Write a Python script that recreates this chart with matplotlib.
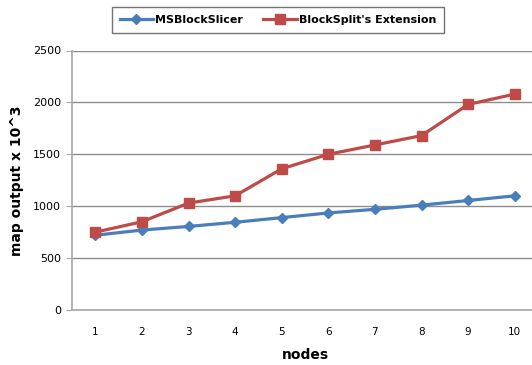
import matplotlib
matplotlib.use('Agg')
import matplotlib.pyplot as plt
from matplotlib.lines import Line2D

nodes = [1, 2, 3, 4, 5, 6, 7, 8, 9, 10]
ms_block_slicer = [720, 770, 805, 845, 890, 935, 970, 1010, 1055, 1100]
blocksplit_ext = [750, 850, 1030, 1100, 1360, 1500, 1590, 1680, 1980, 2080]
yticks = [0, 500, 1000, 1500, 2000, 2500]

blue = '#4a7ebb'
red = '#be4b48'
grid_col = '#8c8c8c'

fig = plt.figure(figsize=(5.32, 3.65), dpi=100)
ax = fig.add_axes([72 / 532, 55 / 365, 466 / 532, 259.5 / 365])

ax.plot(nodes, ms_block_slicer, color=blue, lw=2.3, marker='D', ms=5,
        markeredgecolor=blue, label='MSBlockSlicer', zorder=3)
ax.plot(nodes, blocksplit_ext, color=red, lw=2.3, marker='s', ms=7.5,
        markeredgecolor=red, label="BlockSplit's Extension", zorder=3)

ax.set_xlim(0.5, 10.5)
ax.set_ylim(0, 2500)
ax.set_xticks(nodes)
ax.set_yticks(yticks)
ax.yaxis.grid(True, color=grid_col, lw=1)
ax.set_axisbelow(True)

for s in ['top', 'right']:
    ax.spines[s].set_visible(False)
ax.spines['left'].set_color('#a6a6a6')
ax.spines['bottom'].set_color('#a6a6a6')
ax.spines['left'].set_linewidth(1.2)
ax.spines['bottom'].set_linewidth(1.2)
ax.tick_params(axis='y', length=4, color='#a6a6a6', labelsize=8, pad=4)
ax.tick_params(axis='x', length=0, labelsize=7.5, pad=12)

ax.set_xlabel('nodes', fontsize=10, fontweight='bold', labelpad=8)
ax.set_ylabel('map output x 10^3', fontsize=10, fontweight='bold', labelpad=6)

handles = [
    Line2D([], [], color=blue, lw=2.3, marker='D', ms=5),
    Line2D([], [], color=red, lw=2.3, marker='s', ms=7.5),
]
leg = fig.legend(handles, ['MSBlockSlicer', "BlockSplit's Extension"],
                 loc='center', bbox_to_anchor=(278 / 532, 1 - 20 / 365),
                 ncol=2, frameon=True, fancybox=False, edgecolor='#505050',
                 prop={'weight': 'bold', 'size': 8}, handlelength=3.0,
                 handletextpad=0.2, columnspacing=1.8, borderpad=0.7,
                 borderaxespad=0)
leg.get_frame().set_linewidth(1.0)

fig.savefig('out.png', dpi=100)
